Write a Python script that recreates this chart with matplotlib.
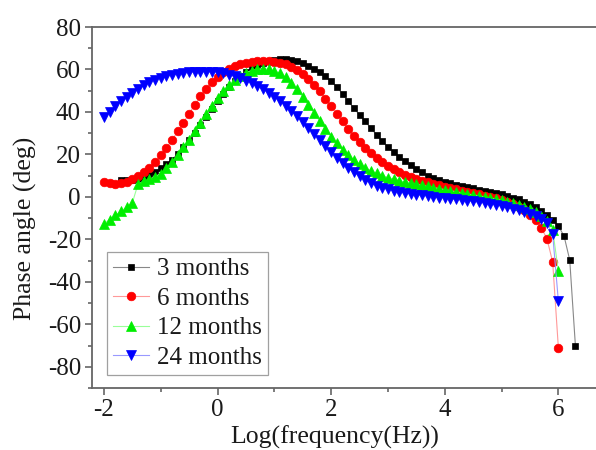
import numpy as np
import matplotlib
matplotlib.use("Agg")
import matplotlib.pyplot as plt

# log10(frequency / Hz) measurement grid
x_3m = np.round(np.arange(-1.7, 6.31, 0.1), 2)
x_6m = np.round(np.arange(-2.0, 6.01, 0.1), 2)
x_12m = np.round(np.arange(-2.0, 6.01, 0.1), 2)
x_24m = np.round(np.arange(-2.0, 6.01, 0.1), 2)

phase_3m = [8.0, 7.8, 8.0, 8.6, 9.5, 10.5, 11.8, 13.4, 15.3, 17.6,
            20.3, 23.3, 26.6, 30.2, 34.0, 37.8, 41.6, 45.2, 48.6, 51.7,
            54.4, 56.8, 58.8, 60.6, 62.0, 63.2, 64.0, 64.6, 64.9, 64.9,
            64.6, 63.9, 62.9, 61.6, 60.3, 58.6, 56.7, 54.5, 51.8, 48.5,
            45.0, 41.8, 38.6, 35.5, 32.3, 29.2, 26.3, 23.5, 21.0, 19.0,
            17.0, 15.0, 13.2, 11.5, 10.0, 8.9, 8.0, 7.2, 6.5, 5.8,
            5.2, 4.6, 4.0, 3.4, 2.9, 2.4, 1.8, 1.2, 0.5, -0.3,
            -1.2, -2.2, -3.4, -4.9, -6.7, -8.6, -10.8, -13.7, -18.4, -29.7,
            -70.0]

phase_6m = [6.8, 6.4, 6.2, 6.4, 7.0, 8.2, 9.8, 11.6, 13.8, 16.3,
            19.5, 23.0, 26.8, 30.8, 35.0, 39.2, 43.4, 47.4, 51.0, 54.0,
            56.6, 58.6, 60.3, 61.6, 62.5, 63.2, 63.7, 64.0, 64.1, 64.0,
            63.7, 63.2, 62.4, 61.2, 59.6, 57.7, 55.3, 52.7, 49.7, 46.3,
            42.7, 39.1, 35.5, 32.0, 28.8, 25.8, 23.0, 20.5, 18.3, 16.3,
            14.6, 13.1, 11.7, 10.5, 9.4, 8.5, 7.6, 6.8, 6.1, 5.4,
            4.7, 4.1, 3.5, 2.9, 2.4, 1.8, 1.2, 0.6, 0.0, -0.7,
            -1.5, -2.4, -3.5, -4.8, -6.4, -8.4, -10.8, -14.5, -19.8, -30.7,
            -71.0]

phase_12m = [-12.7, -10.7, -8.7, -6.8, -4.8, -2.8, 6.0, 7.3, 8.3, 9.5,
             11.0, 13.5, 16.5, 19.8, 23.3, 27.0, 31.0, 35.0, 39.0, 43.0,
             46.5, 50.0, 52.8, 55.2, 57.0, 58.5, 59.5, 60.1, 60.3, 60.1,
             59.4, 58.2, 56.3, 53.7, 50.6, 47.1, 43.3, 39.5, 35.7, 31.9,
             28.4, 25.2, 22.3, 19.7, 17.5, 15.5, 13.8, 12.3, 11.1, 10.0,
             9.1, 8.3, 7.6, 7.0, 6.4, 5.9, 5.4, 4.9, 4.4, 3.9,
             3.4, 2.9, 2.4, 1.9, 1.4, 0.9, 0.5, 0.0, -0.5, -1.0,
             -1.6, -2.3, -3.0, -3.8, -4.7, -5.8, -7.1, -8.8, -11.2, -15.5,
             -35.0]

phase_24m = [37.5, 40.0, 43.0, 45.0, 47.0, 49.0, 51.0, 52.5, 54.0, 55.2,
             56.0, 56.8, 57.4, 57.9, 58.3, 58.6, 58.8, 58.9, 58.9, 58.8,
             58.6, 58.2, 57.6, 56.8, 55.9, 54.8, 53.5, 52.2, 50.6, 48.9,
             47.0, 45.0, 42.8, 40.5, 38.0, 35.4, 32.6, 29.8, 26.9, 24.0,
             21.2, 18.5, 16.0, 13.6, 11.5, 9.6, 7.9, 6.5, 5.3, 4.3,
             3.5, 2.8, 2.3, 1.8, 1.4, 1.0, 0.7, 0.4, 0.0, -0.3,
             -0.6, -0.9, -1.2, -1.5, -1.8, -2.1, -2.5, -2.9, -3.3, -3.8,
             -4.3, -4.9, -5.5, -6.2, -7.0, -7.9, -9.0, -10.5, -12.5, -17.5,
             -49.0]

labels = ["3 months", "6 months", "12 months", "24 months"]
colors = ["#000000", "#ff0000", "#00ee00", "#0000ff"]
line_colors = ["#888888", "#ff9999", "#99ff99", "#9999ff"]
markers = ["s", "o", "^", "v"]
msizes = [5, 6.2, 6.8, 6.8]

plt.rcParams["font.family"] = ["Liberation Serif", "DejaVu Serif"]
plt.rcParams["axes.unicode_minus"] = False

fig = plt.figure(figsize=(5.96, 4.5), dpi=100)
ax = fig.add_axes([92 / 596, 1 - 388 / 450, 511.8 / 596, 361 / 450])

series = [(x_3m, phase_3m), (x_6m, phase_6m), (x_12m, phase_12m), (x_24m, phase_24m)]
for (xs, ys), lab, c, lc, m, ms in zip(series, labels, colors, line_colors, markers, msizes):
    ax.plot(xs, ys, color=lc, lw=0.8, marker=m, markersize=ms,
            markerfacecolor=c, markeredgecolor=c, markeredgewidth=0.5, label=lab)

ax.set_xlim(-2.21, 6.8)
ax.set_ylim(-90, 80)
ax.set_xticks([-2, 0, 2, 4, 6])
ax.set_xticks([-1, 1, 3, 5], minor=True)
ax.set_yticks(np.arange(-80, 81, 20))
ax.set_yticks(np.arange(-90, 80, 10), minor=True)

spine_c = "#666666"
for s in ax.spines.values():
    s.set_color(spine_c)
    s.set_linewidth(1.3)
ax.tick_params(which="both", direction="out", color=spine_c, width=1.2,
               labelsize=18, labelcolor="#1a1a1a")
ax.tick_params(which="major", length=5, pad=3)
ax.tick_params(which="minor", length=3)

ax.set_xlabel("Log(frequency(Hz))", fontsize=18.5, color="#1a1a1a")
ax.set_ylabel("Phase angle (deg)", fontsize=18.5, color="#1a1a1a")
ax.xaxis.set_label_coords((335 - 92) / 511.8, -0.105)
ax.yaxis.set_label_coords(-0.107, (388 - 228) / 361)

leg = ax.legend(loc="lower left", bbox_to_anchor=(0.029, 0.036), borderaxespad=0,
                fontsize=18, handlelength=1.45, handletextpad=0.3,
                labelspacing=0.28, borderpad=0.25, frameon=True, fancybox=False)
leg.get_frame().set_edgecolor("#888888")
leg.get_frame().set_linewidth(0.9)
for t in leg.get_texts():
    t.set_color("#1a1a1a")

fig.savefig("out.png", dpi=100)
